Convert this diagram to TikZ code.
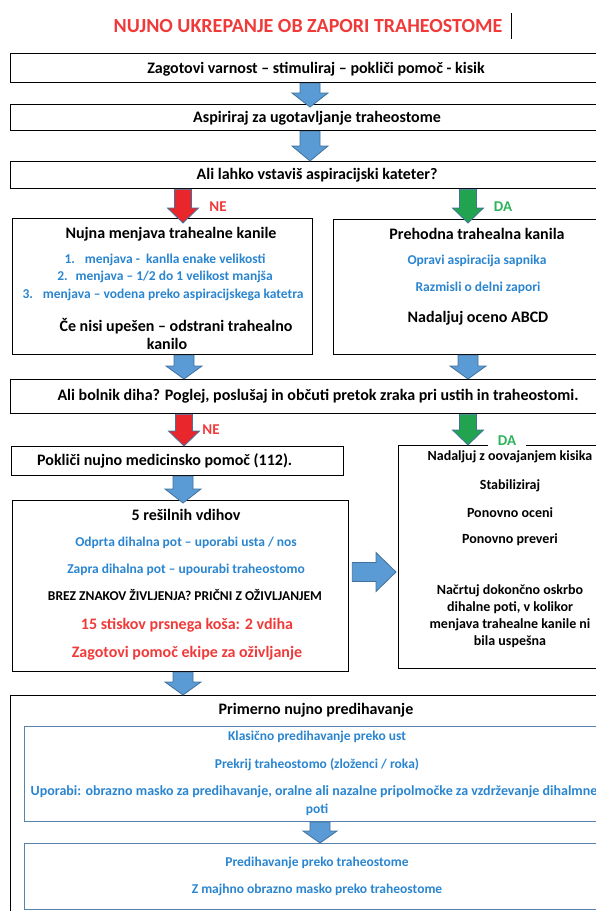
\documentclass[tikz,border=0pt]{standalone}
\usepackage{fontspec}
\setmainfont{Carlito}
\usetikzlibrary{calc}
\definecolor{txtblue}{HTML}{2A85D0}
\definecolor{txtred}{HTML}{F03A3A}
\definecolor{txtgreen}{HTML}{2DB35A}
\definecolor{arrblue}{HTML}{5B9BD5}
\definecolor{arrline}{HTML}{41719C}
\definecolor{arrred}{HTML}{E8262B}
\definecolor{arrgreen}{HTML}{22A34F}
\definecolor{innerline}{HTML}{5A82AE}
% downward block arrow: style, x, from, to, half shaft, half head, head length
\newcommand\vblock[7]{%
  \path[#1] let \p1=(#3), \p2=(#4) in
    (#2pt-#5pt,\y1) -- (#2pt+#5pt,\y1) -- (#2pt+#5pt,\y2+#7pt) -- (#2pt+#6pt,\y2+#7pt)
    -- (#2pt,\y2) -- (#2pt-#6pt,\y2+#7pt) -- (#2pt-#5pt,\y2+#7pt) -- cycle;}
% rightward block arrow: style, y, from, to, half shaft, half head, head length
\newcommand\hblock[7]{%
  \path[#1] let \p1=(#3), \p2=(#4) in
    (\x1,-#2pt+#5pt) -- (\x2-#7pt,-#2pt+#5pt) -- (\x2-#7pt,-#2pt+#6pt) -- (\x2,-#2pt)
    -- (\x2-#7pt,-#2pt-#6pt) -- (\x2-#7pt,-#2pt-#5pt) -- (\x1,-#2pt-#5pt) -- cycle;}
\begin{document}
\begin{tikzpicture}[x=1pt,y=-1pt,
  box/.style={draw=black, line width=1.3pt, anchor=north west, inner sep=0pt},
  innerbox/.style={draw=innerline, line width=0.9pt, anchor=north west, inner sep=0pt},
  tk/.style={inner sep=0pt, font=\bfseries\fontsize{16}{19}\selectfont},
  tkm/.style={inner sep=0pt, font=\bfseries\fontsize{13.5}{16}\selectfont},
  tbl/.style={inner sep=0pt, text=txtblue, font=\bfseries\fontsize{13.5}{16}\selectfont},
  tr/.style={inner sep=0pt, text=txtred, font=\bfseries\fontsize{16}{19}\selectfont},
  tda/.style={inner sep=0pt, font=\bfseries\fontsize{14}{17}\selectfont},
  lblno/.style={inner sep=0pt, text=txtred, font=\bfseries\fontsize{15}{18}\selectfont},
  lblyes/.style={inner sep=0pt, text=txtgreen, font=\bfseries\fontsize{15}{18}\selectfont},
  bluearrow/.style={fill=arrblue, draw=arrline, line width=0.8pt},
  redarrow/.style={fill=arrred, draw=arrline, line width=0.8pt},
  greenarrow/.style={fill=arrgreen, draw=arrline, line width=0.8pt}]
\useasboundingbox (0,0) rectangle (596,911);
\clip (0,0) rectangle (596,911);

% title
\node[inner sep=0pt, text=txtred, font=\bfseries\fontsize{20}{24}\selectfont] (title) at (308,26)
  {NUJNO UKREPANJE OB ZAPORI TRAHEOSTOME};
\draw[line width=0.8pt] (511,13) -- (511,39);

% boxes
\node[box, minimum width=614pt, minimum height=29pt] (b1) at (10,53) {};
\node[box, minimum width=614pt, minimum height=26pt] (b2) at (10,104) {};
\node[box, minimum width=614pt, minimum height=27pt] (b3) at (10,161) {};
\node[box, minimum width=300pt, minimum height=136pt] (left) at (12,218) {};
\node[box, minimum width=288pt, minimum height=135pt] (right) at (333,219) {};
\node[box, minimum width=614pt, minimum height=34pt] (b4) at (10,379) {};
\node[box, minimum width=332pt, minimum height=29pt] (call) at (11,446) {};
\node[box, minimum width=336pt, minimum height=171pt] (breaths) at (12,500) {};
\node[box, minimum width=224pt, minimum height=223pt] (cont) at (398,445) {};
\node[box, minimum width=614pt, minimum height=240pt] (vent) at (10,695) {};
\node[innerbox, minimum width=600pt, minimum height=95pt] (mouth) at (24,726) {};
\node[innerbox, minimum width=600pt, minimum height=66pt] (stoma) at (24,843) {};

% texts
\node[tk] (t1) at (316,69) {Zagotovi varnost – stimuliraj – pokliči pomoč - kisik};
\node[tk] (t2) at (317,118) {Aspiriraj za ugotavljanje traheostome};
\node[tk] (t3) at (317,175) {Ali lahko vstaviš aspiracijski kateter?};

\node[tk] (l1) at (171,234) {Nujna menjava trahealne kanile};
\node[tbl] (l2) at (165,260) {1.\hspace{10pt}menjava -\ \ kanlla enake velikosti};
\node[tbl] (l3) at (165,277) {2.\hspace{8pt}menjava – 1/2 do 1 velikost manjša};
\node[tbl] (l4) at (163,295) {3.\hspace{10pt}menjava – vodena preko aspiracijskega katetra};
\node[tk] (l5) at (176,326) {Če nisi upešen – odstrani trahealno};
\node[tk] (l6) at (167,344) {kanilo};

\node[tk] (r1) at (477,234) {Prehodna trahealna kanila};
\node[tbl] (r2) at (477,261) {Opravi aspiracija sapnika};
\node[tbl] (r3) at (478,288) {Razmisli o delni zapori};
\node[tk] (r4) at (478,318) {Nadaljuj oceno ABCD};

\node[tk] (t4) at (318,396) {Ali bolnik diha? Poglej, poslušaj in občuti pretok zraka pri ustih in traheostomi.};
\node[tk, anchor=west] (t5) at (37,461) {Pokliči nujno medicinsko pomoč (112).};

\node[tk] (v1) at (186,515) {5 rešilnih vdihov};
\node[tbl] (v2) at (186,543) {Odprta dihalna pot – uporabi usta / nos};
\node[tbl] (v3) at (186,570) {Zapra dihalna pot – upourabi traheostomo};
\node[tkm] (v4) at (185,595) {BREZ ZNAKOV ŽIVLJENJA? PRIČNI Z OŽIVLJANJEM};
\node[tr] (v5) at (187,625) {15 stiskov prsnega koša: 2 vdiha};
\node[tr] (v6) at (187,653) {Zagotovi pomoč ekipe za oživljanje};

\node[tda] (c1) at (510,457) {Nadaljuj z oovajanjem kisika};
\node[tda] (c2) at (510,486) {Stabiliziraj};
\node[tda] (c3) at (510,513) {Ponovno oceni};
\node[tda] (c4) at (510,540) {Ponovno preveri};
\node[tda] (c5) at (510,591) {Načrtuj dokončno oskrbo};
\node[tda] (c6) at (510,608) {dihalne poti, v kolikor};
\node[tda] (c7) at (510,625) {menjava trahealne kanile ni};
\node[tda] (c8) at (510,642) {bila uspešna};

\node[tk] (p1) at (316,710) {Primerno nujno predihavanje};
\node[tbl] (p2) at (317,737) {Klasično predihavanje preko ust};
\node[tbl] (p3) at (317,765) {Prekrij traheostomo (zloženci / roka)};
\node[tbl, font=\bfseries\fontsize{14}{16}\selectfont] (p4) at (314,792)
  {Uporabi: obrazno masko za predihavanje, oralne ali nazalne pripolmočke za vzdrževanje dihalmne};
\node[tbl] (p5) at (317,810) {poti};
\node[tbl] (s1) at (317,863) {Predihavanje preko traheostome};
\node[tbl] (s2) at (317,890) {Z majhno obrazno masko preko traheostome};

% connectors
\vblock{bluearrow}{310}{b1.south}{$(b2.north)+(0,3)$}{10}{18}{14}
\vblock{bluearrow}{310}{b2.south}{b3.north}{10}{18}{15}
\vblock{redarrow}{183}{b3.south}{$(left.north)+(0,5)$}{8.5}{15.5}{15}
\vblock{greenarrow}{468}{b3.south}{$(right.north)+(0,4)$}{8.5}{15.5}{15}
\vblock{bluearrow}{184}{left.south}{b4.north}{10}{18}{13}
\vblock{bluearrow}{468}{right.south}{b4.north}{10}{18}{13}
\vblock{redarrow}{184}{b4.south}{call.north}{8.5}{15.5}{15}
\vblock{greenarrow}{468}{b4.south}{cont.north}{8.5}{15.5}{15}
\vblock{bluearrow}{183}{call.south}{$(breaths.north)+(0,3)$}{10}{18}{14}
\hblock{bluearrow}{572}{$(breaths.east)+(3,0)$}{$(cont.west)+(-2,0)$}{9.5}{19.5}{20}
\vblock{bluearrow}{183}{breaths.south}{vent.north}{10}{18}{13}
\vblock{bluearrow}{320}{mouth.south}{stoma.north}{10}{17}{12}

% branch labels
\node[lblno] (ne1) at (218,207) {NE};
\node[lblyes] (da1) at (503,207) {DA};
\node[lblno] (ne2) at (211,430) {NE};
\node[lblyes, fill=white, inner xsep=10pt, inner ysep=3pt] (da2) at (507,441) {DA};
\end{tikzpicture}
\end{document}
